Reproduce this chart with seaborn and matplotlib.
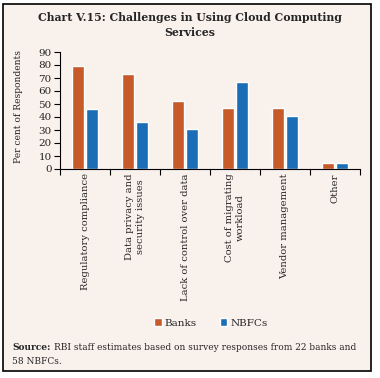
import matplotlib
matplotlib.use("Agg")
import matplotlib.pyplot as plt
import seaborn as sns
import pandas as pd
from matplotlib.patches import Rectangle

categories = ["Regulatory compliance", "Data privacy and\nsecurity issues",
              "Lack of control over data", "Cost of migrating\nworkload",
              "Vendor management", "Other"]
banks = [79, 73, 52, 47, 47, 5]
nbfcs = [46, 36, 31, 67, 41, 5]
series = ["Banks", "NBFCs"]
yticks = list(range(0, 91, 10))

bg = "#F9F1EC"
colors = ["#C65A28", "#1B6DB5"]

df = pd.DataFrame({
    "cat": categories * 2,
    "val": banks + nbfcs,
    "series": [series[0]] * len(categories) + [series[1]] * len(categories),
})

sns.set_theme(style="white")
plt.rcParams["font.family"] = ["DejaVu Serif"]

fig = plt.figure(figsize=(3.8, 3.78), dpi=100)
fig.patch.set_facecolor("white")
fig.patches.append(Rectangle((3 / 380, 1 - 371 / 378), 368 / 380, 367 / 378,
                             transform=fig.transFigure, facecolor=bg,
                             edgecolor="black", linewidth=1.2, zorder=-10))

ax = fig.add_axes([60 / 380, 1 - 169 / 378, 300 / 380, 117 / 378])
ax.set_facecolor("none")
sns.barplot(data=df, x="cat", y="val", hue="series", palette=colors,
            width=0.57, gap=0.21, ax=ax, saturation=1, legend=False)

ax.set_ylim(0, 90)
ax.set_xlim(-0.5, len(categories) - 0.5)
ax.set_yticks(yticks)
ax.set_yticklabels([str(t) for t in yticks], fontsize=7.5)
ax.set_xticks(range(len(categories)))
ax.set_xticklabels(categories, rotation=90, fontsize=7.2, va="top", ha="center",
                   multialignment="center")
ax.tick_params(axis="x", length=0, pad=3)
ax.tick_params(axis="y", length=4, width=0.8, color="black", pad=2, left=True)
ax.set_xticks([i - 0.5 for i in range(len(categories) + 1)], minor=True)
ax.tick_params(axis="x", which="minor", length=4, width=0.8, color="black", bottom=True)
for s in ["top", "right"]:
    ax.spines[s].set_visible(False)
for s in ["left", "bottom"]:
    ax.spines[s].set_color("black")
    ax.spines[s].set_linewidth(0.8)
ax.set_xlabel("")
ax.set_ylabel("Per cent of Respondents", fontsize=6.6)
ax.yaxis.set_label_coords(-(60 - 23) / 300, 0.535)

fig.text(0.5, 1 - 25 / 378, "Chart V.15: Challenges in Using Cloud Computing\nServices",
         ha="center", va="center", fontsize=7.8, fontweight="bold", linespacing=1.35)

handles = [Rectangle((0, 0), 1, 1, facecolor=c) for c in colors]
fig.legend(handles, series, loc="center", bbox_to_anchor=(211 / 380, 1 - 323 / 378),
           ncol=2, frameon=False, fontsize=7.5, handlelength=0.7, handleheight=0.7,
           handletextpad=0.3, columnspacing=2.2)

fs = 6.5
t1 = fig.text(12 / 380, 1 - 348 / 378, "Source:", ha="left", va="center",
              fontsize=fs, fontweight="bold")
fig.canvas.draw()
bb = t1.get_window_extent(renderer=fig.canvas.get_renderer())
x_after = bb.x1 / fig.bbox.width
fig.text(x_after + 3 / 380, 1 - 348 / 378,
         "RBI staff estimates based on survey responses from 22 banks and",
         ha="left", va="center", fontsize=fs)
fig.text(12 / 380, 1 - 361 / 378, "58 NBFCs.", ha="left", va="center", fontsize=fs)

fig.savefig("out.png", dpi=100, facecolor=fig.get_facecolor())
